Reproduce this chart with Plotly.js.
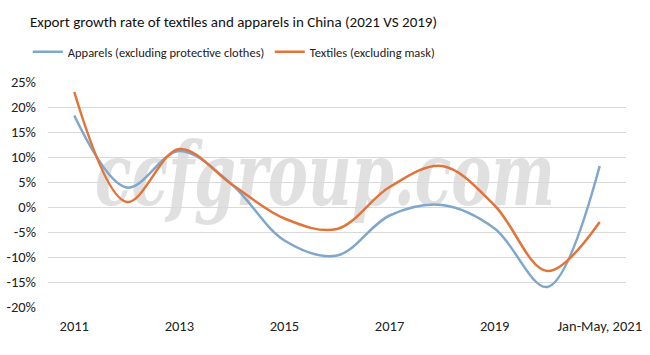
<!DOCTYPE html>
<html>
<head>
<meta charset="utf-8">
<script src="https://cdn.plot.ly/plotly-3.0.1.min.js"></script>
<style>
  html, body { margin:0; padding:0; background:#fff; }
  #wrap { position:relative; width:650px; height:355px; overflow:hidden; }
  #wm { position:absolute; left:95px; top:130px; font-family:"DejaVu Serif", serif; font-style:italic; font-weight:bold;
        font-size:88px; line-height:1; color:#e0e0e0; white-space:nowrap; z-index:0; transform-origin:0 0; }
  #chart { position:absolute; left:0; top:0; width:650px; height:355px; z-index:1; }
</style>
</head>
<body>
<div id="wrap">
  <div id="wm">ccfgroup.com</div>
  <div id="chart"></div>
</div>
<script>
const categories = ["2011","2012","2013","2014","2015","2016","2017","2018","2019","2020","Jan-May, 2021"];
const apparels = [18.3, 3.9, 11.2, 4.5, -6.7, -9.7, -1.7, 0.4, -4.3, -16.0, 8.2];
const textiles = [23.0, 1.0, 11.6, 4.5, -2.3, -4.4, 4.0, 8.2, 0.3, -12.8, -3.0];
const seriesNames = ["Apparels (excluding protective clothes)", "Textiles (excluding mask)"];
const yTickVals = [-20,-15,-10,-5,0,5,10,15,20,25];
const yTickText = yTickVals.map(v => v + "%");

// fit watermark width
const wm = document.getElementById("wm");
const w = wm.getBoundingClientRect().width;
wm.style.transform = "scaleX(" + (460 / w) + ")";

const font = "Carlito, Calibri, 'Open Sans', sans-serif";
const traces = [
  {x: categories, y: apparels, name: seriesNames[0], type: "scatter", mode: "lines",
   line: {shape: "spline", smoothing: 1, color: "#7fa7cc", width: 2.5}},
  {x: categories, y: textiles, name: seriesNames[1], type: "scatter", mode: "lines",
   line: {shape: "spline", smoothing: 1, color: "#e2743a", width: 2.5}}
];
const layout = {
  width: 650, height: 355,
  paper_bgcolor: "rgba(0,0,0,0)", plot_bgcolor: "rgba(0,0,0,0)",
  margin: {l: 48, r: 24, t: 82, b: 48},
  title: {text: "Export growth rate of textiles and apparels in China (2021 VS 2019)",
          x: 0.046, xanchor: "left", y: 0.94, yanchor: "middle",
          font: {family: font, size: 15, color: "#111"}},
  showlegend: true,
  legend: {orientation: "h", x: -0.035, xanchor: "left", y: 1.133, yanchor: "middle",
           font: {family: font, size: 12.5, color: "#222"}, entrywidth: 197, entrywidthmode: "pixels",
           tracegroupgap: 0},
  xaxis: {type: "category", dtick: 2, tick0: 0, showgrid: false, zeroline: false,
          showline: false, ticks: "", ticklabelstandoff: 8,
          tickfont: {family: font, size: 14.5, color: "#222"},
          range: [-0.5, 10.5]},
  yaxis: {range: [-20, 25], tickvals: yTickVals, ticktext: yTickText, showgrid: true,
          gridcolor: "#d9d9d9", gridwidth: 1, zeroline: false, showline: false, ticks: "",
          ticklabelstandoff: 11,
          tickfont: {family: font, size: 14.5, color: "#222"}},
  font: {family: font}
};
Plotly.newPlot("chart", traces, layout, {displayModeBar: false, staticPlot: true});
</script>
</body>
</html>
